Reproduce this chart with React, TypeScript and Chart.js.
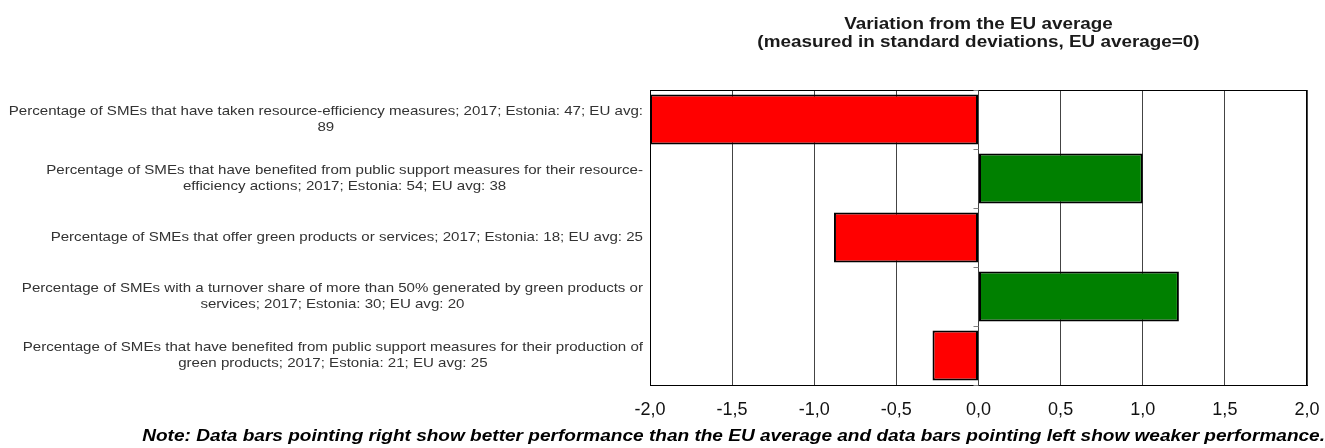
import React, { useEffect, useRef } from "react";
import { Chart, registerables } from "chart.js";
Chart.register(...registerables);

const categories: string[][] = [
  ["Percentage of SMEs that have taken resource-efficiency measures; 2017; Estonia: 47; EU avg:", "89"],
  ["Percentage of SMEs that have benefited from public support measures for their resource-", "efficiency actions; 2017; Estonia: 54; EU avg: 38"],
  ["Percentage of SMEs that offer green products or services; 2017; Estonia: 18; EU avg: 25"],
  ["Percentage of SMEs with a turnover share of more than 50% generated by green products or", "services; 2017; Estonia: 30; EU avg: 20"],
  ["Percentage of SMEs that have benefited from public support measures for their production of", "green products; 2017; Estonia: 21; EU avg: 25"],
];
const values: number[] = [-2.0, 1.0, -0.88, 1.22, -0.28];
const titleLines: string[] = ["Variation from the EU average", "(measured in standard deviations, EU average=0)"];
const noteText = "Note: Data bars pointing right show better performance than the EU average and data bars pointing left show weaker performance.";

function drawScaled(ctx: CanvasRenderingContext2D, text: string, x: number, y: number, sx: number, align: CanvasTextAlign) {
  ctx.save();
  ctx.translate(x, y);
  ctx.scale(sx, 1);
  ctx.textAlign = align;
  ctx.fillText(text, 0, 0);
  ctx.restore();
}

export default function App() {
  const ref = useRef<HTMLCanvasElement>(null);
  useEffect(() => {
    const canvas = ref.current!;
    const deco = {
      id: "deco",
      afterDatasetsDraw(chart: any) {
        const { ctx, chartArea } = chart;
        const y = chart.scales.y;
        const x = chart.scales.x;
        ctx.save();
        // plot frame
        ctx.strokeStyle = "#000";
        ctx.lineWidth = 1;
        ctx.strokeRect(chartArea.left + 0.5, chartArea.top + 0.5, chartArea.right - chartArea.left - 1, chartArea.bottom - chartArea.top);
        // category tick marks at the zero line
        const x0 = x.getPixelForValue(0);
        ctx.strokeStyle = "#808080";
        for (let i = 0; i <= categories.length; i++) {
          const yy = Math.round(y.getPixelForValue(i - 0.5)) + 0.5;
          ctx.beginPath();
          ctx.moveTo(x0 - 5, yy);
          ctx.lineTo(x0, yy);
          ctx.stroke();
        }
        // category labels
        const lsx = 1.16;
        ctx.fillStyle = "#333";
        ctx.font = '13px "Liberation Sans", Arial, sans-serif';
        ctx.textBaseline = "middle";
        const rightEdge = chartArea.left - 7;
        categories.forEach((lines, i) => {
          const w = Math.max(...lines.map((l) => ctx.measureText(l).width)) * lsx;
          const cx = rightEdge - w / 2;
          const cy = y.getPixelForValue(i);
          const lh = 16;
          lines.forEach((l, j) => {
            drawScaled(ctx, l, cx, cy + (j - (lines.length - 1) / 2) * lh, lsx, "center");
          });
        });
        // title
        ctx.fillStyle = "#1a1a1a";
        ctx.font = 'bold 16px "Liberation Sans", Arial, sans-serif';
        const tc = (chartArea.left + chartArea.right) / 2;
        drawScaled(ctx, titleLines[0], tc, 25, 1.18, "center");
        drawScaled(ctx, titleLines[1], tc, 43, 1.18, "center");
        // note
        ctx.fillStyle = "#000";
        ctx.font = 'bold italic 16px "Liberation Sans", Arial, sans-serif';
        drawScaled(ctx, noteText, 1325, 437, 1.19, "right");
        ctx.restore();
      },
    };
    const chart = new Chart(canvas, {
      type: "bar",
      data: {
        labels: categories.map((c) => c.join(" ")),
        datasets: [
          {
            data: values,
            backgroundColor: values.map((v) => (v < 0 ? "#FF0000" : "#008000")),
            borderColor: "#000",
            borderWidth: 2,
            borderSkipped: false,
            barPercentage: 0.85,
            categoryPercentage: 1,
          },
        ],
      },
      options: {
        indexAxis: "y",
        animation: false,
        responsive: false,
        layout: { padding: { left: 0, right: 18, top: 90, bottom: 0 } },
        plugins: { legend: { display: false }, tooltip: { enabled: false }, title: { display: false } },
        scales: {
          x: {
            min: -2,
            max: 2,
            ticks: {
              stepSize: 0.5,
              color: "#111",
              font: { family: '"Liberation Sans", Arial, sans-serif', size: 18 },
              padding: 14,
              callback: (v: any) => Number(v).toFixed(1).replace(".", ","),
            },
            grid: { color: "#444", drawTicks: false, lineWidth: 1 },
            border: { display: true, color: "#000" },
            afterFit: (s: any) => {
              s.height = 63;
              s.paddingLeft = 0;
              s.paddingRight = 0;
            },
          },
          y: {
            ticks: { display: false },
            grid: { display: false, drawTicks: false },
            border: { display: true, color: "#000" },
            afterFit: (s: any) => {
              s.width = 650;
            },
          },
        },
      },
      plugins: [deco],
    } as any);
    return () => chart.destroy();
  }, []);
  return (
    <div style={{ position: "absolute", left: 0, top: 0, width: 1325, height: 448, background: "#fff" }}>
      <canvas ref={ref} width={1325} height={448} style={{ display: "block" }} />
    </div>
  );
}
